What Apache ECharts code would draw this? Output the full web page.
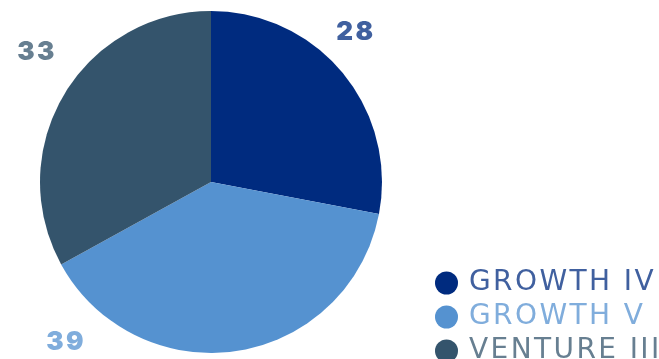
<!DOCTYPE html>
<html>
<head>
<meta charset="utf-8">
<script src="https://cdn.jsdelivr.net/npm/echarts@6/dist/echarts.min.js"></script>
<style>
  html, body { margin: 0; padding: 0; background: #ffffff; }
  #chart { width: 659px; height: 359px; }
</style>
</head>
<body>
<div id="chart"></div>
<script>
// Fund allocation shares
const categories = ['GROWTH IV', 'GROWTH V', 'VENTURE III'];
const values = [28, 39, 33];
const sliceColors = ['#002b7f', '#5592d0', '#34546c'];
const textColors = ['#40609f', '#80addc', '#677f91'];

// Where each value label sits (pixel centre), per slice
const labelSpots = [[356, 32], [66, 342], [37, 52]];

const chart = echarts.init(document.getElementById('chart'), null, { renderer: 'canvas' });

chart.setOption({
  animation: false,
  color: sliceColors,
  legend: {
    orient: 'vertical',
    left: 435,
    top: 269,
    padding: 0,
    height: 120,
    icon: 'circle',
    itemWidth: 35,
    itemHeight: 23,
    itemGap: 6,
    selectedMode: false,
    data: categories.map((name, i) => ({
      name,
      textStyle: { color: textColors[i] }
    })),
    textStyle: {
      fontFamily: 'DejaVu Sans',
      fontSize: 28
    }
  },
  series: [{
    type: 'pie',
    center: [211, 182],
    radius: 171,
    startAngle: 90,
    clockwise: true,
    silent: true,
    label: {
      show: true,
      position: 'inside',
      formatter: '{c}',
      fontFamily: 'Inter',
      fontWeight: 900,
      fontSize: 26
    },
    labelLine: { show: false },
    labelLayout: (params) => ({
      x: labelSpots[params.dataIndex][0],
      y: labelSpots[params.dataIndex][1],
      align: 'center',
      verticalAlign: 'middle'
    }),
    itemStyle: { borderWidth: 0 },
    data: categories.map((name, i) => ({
      name,
      value: values[i],
      label: { color: textColors[i] }
    }))
  }]
});

// Wider tracking for all text on the chart canvas, then repaint
document.querySelectorAll('#chart canvas').forEach((cv) => {
  cv.getContext('2d').letterSpacing = '2.4px';
});
chart.getZr().painter.refresh(true);
</script>
</body>
</html>
